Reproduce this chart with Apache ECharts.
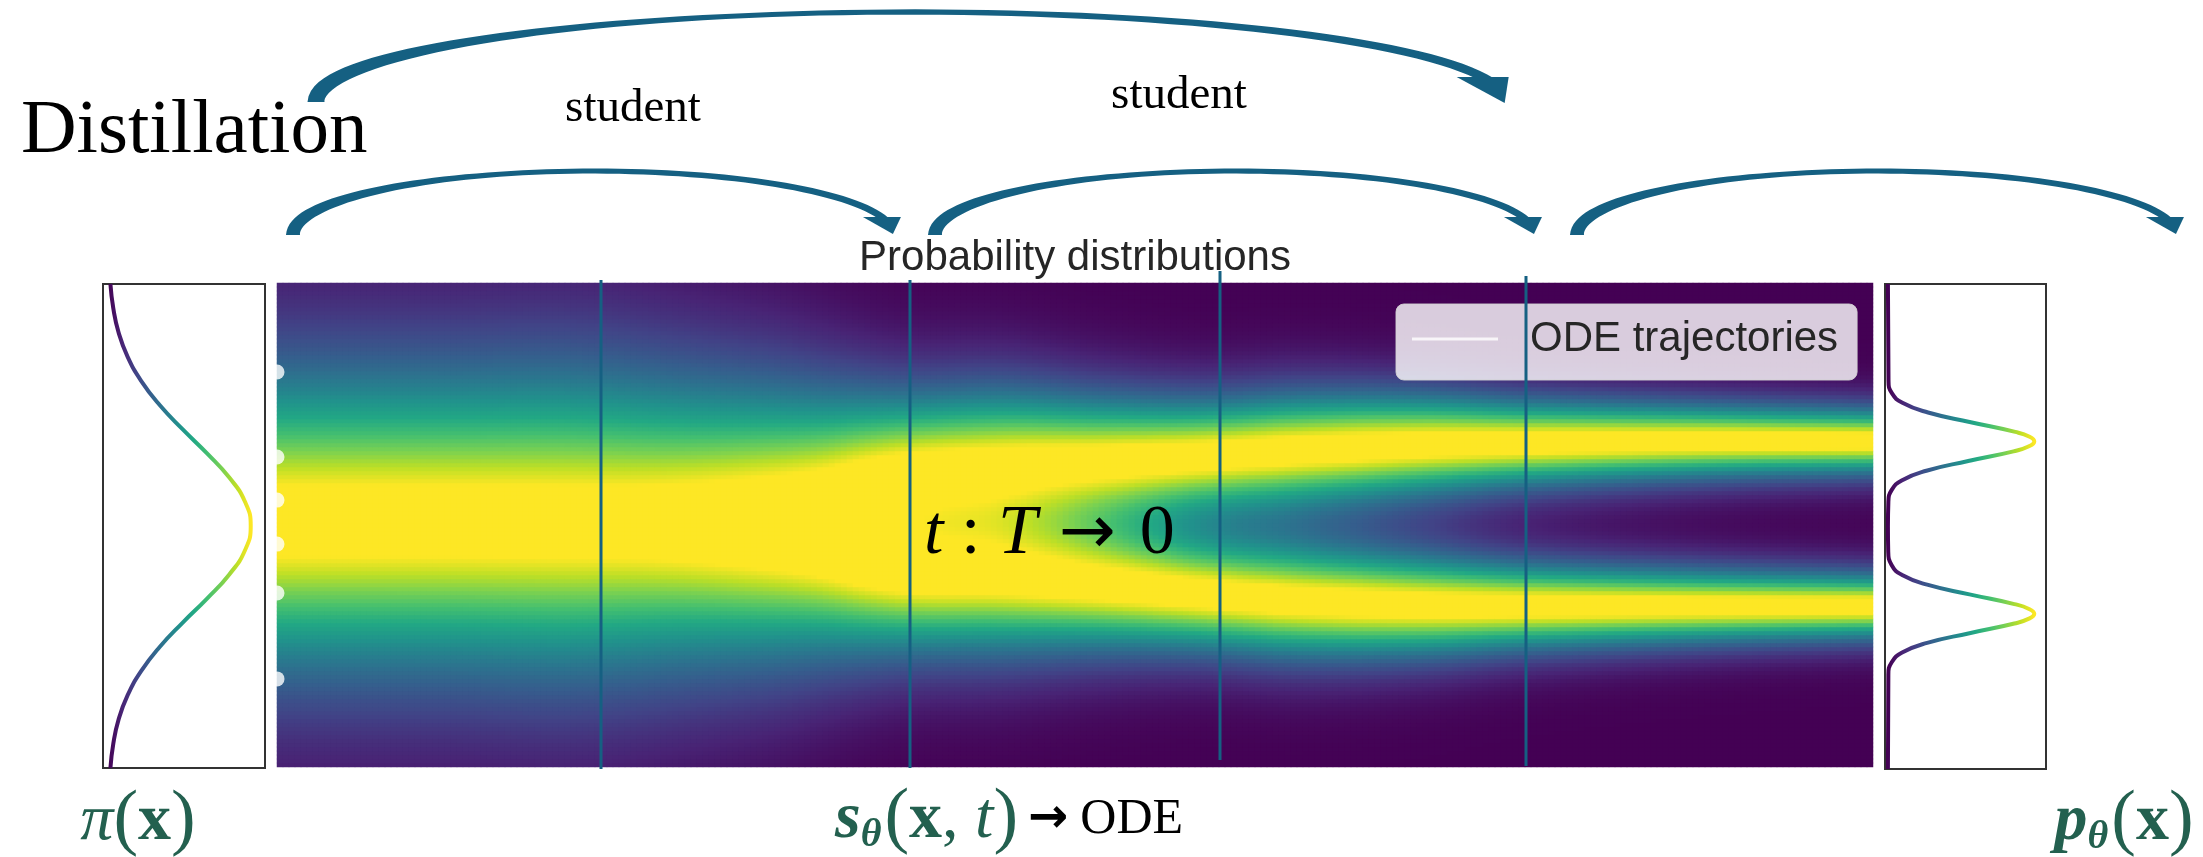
<!DOCTYPE html>
<html>
<head>
<meta charset="utf-8">
<title>Distillation - probability flow ODE</title>
<script src="https://cdn.jsdelivr.net/npm/echarts@6/dist/echarts.min.js"></script>
<style>
  html, body { margin: 0; padding: 0; background: #ffffff; }
  #chart { width: 2203px; height: 857px; }
</style>
</head>
<body>
<div id="chart"></div>
<script>
// density bands at stations along t (0 = left edge, 1 = right edge)
// positions are in units of the vertical range: -1 = bottom, 1 = top
const stationT  = [0, 0.108, 0.202, 0.303, 0.390, 0.453, 0.516, 0.578, 0.641, 0.716, 0.783, 0.892, 1.0];
const upperMode = [0.017, 0.021, 0.029, 0.153, 0.236, 0.260, 0.269, 0.285, 0.310, 0.331, 0.339, 0.347, 0.347];
const lowerMode = [0.017, 0.012, -0.004, -0.136, -0.219, -0.227, -0.252, -0.285, -0.314, -0.331, -0.335, -0.335, -0.335];
const modeWidth = [0.570, 0.570, 0.570, 0.463, 0.310, 0.289, 0.248, 0.219, 0.215, 0.194, 0.165, 0.140, 0.124];
const bandShape = 1.6;
const bandGain = 1.12;

// start points of the ODE trajectories (white dots on the left edge)
const trajStart = [0.632, 0.281, 0.103, -0.079, -0.281, -0.636];

// prior pi(x), left panel
const priorPos     = [1.0, 0.9, 0.8, 0.7, 0.6, 0.5, 0.4, 0.3, 0.2, 0.1, 0.0, -0.1, -0.2, -0.3, -0.4, -0.5, -0.6, -0.7, -0.8, -0.9, -1.0];
const priorDensity = [0.017, 0.037, 0.074, 0.137, 0.232, 0.362, 0.522, 0.694, 0.850, 0.960, 1.0, 0.960, 0.850, 0.694, 0.522, 0.362, 0.232, 0.137, 0.074, 0.037, 0.017];

// p_theta(x), right panel
const modelPos     = [1.0, 0.60, 0.55, 0.51, 0.47, 0.43, 0.39, 0.37, 0.351, 0.33, 0.31, 0.27, 0.23, 0.19, 0.15, 0.10, 0.0,
                      -0.10, -0.16, -0.20, -0.24, -0.28, -0.32, -0.34, -0.36, -0.38, -0.40, -0.44, -0.48, -0.52, -0.56, -0.61, -1.0];
const modelDensity = [0, 0.004, 0.027, 0.099, 0.274, 0.566, 0.870, 0.968, 1.0, 0.96, 0.858, 0.549, 0.263, 0.094, 0.025, 0.003, 0,
                      0.002, 0.026, 0.097, 0.268, 0.557, 0.864, 0.964, 1.0, 0.964, 0.864, 0.557, 0.268, 0.097, 0.026, 0.003, 0];

const viridis = ['#440154', '#482475', '#414487', '#355f8d', '#2a788e', '#21918c',
                 '#22a884', '#44bf70', '#7ad151', '#bddf26', '#fde725'];
const arrowColor = '#156082';
const mathColor = '#23604f';

const cols = 266, rows = 121;

// smooth (cubic Hermite) reading of a station array at t
function stationValue(arr, t) {
  const n = stationT.length;
  let k = 0;
  while (k < n - 2 && t > stationT[k + 1]) k++;
  const slope = i => {
    if (i === 0) return (arr[1] - arr[0]) / (stationT[1] - stationT[0]);
    if (i === n - 1) return (arr[n - 1] - arr[n - 2]) / (stationT[n - 1] - stationT[n - 2]);
    return (arr[i + 1] - arr[i - 1]) / (stationT[i + 1] - stationT[i - 1]);
  };
  const h = stationT[k + 1] - stationT[k];
  const f = Math.min(1, Math.max(0, (t - stationT[k]) / h));
  const f2 = f * f, f3 = f2 * f;
  return (2 * f3 - 3 * f2 + 1) * arr[k] + (f3 - 2 * f2 + f) * h * slope(k)
       + (-2 * f3 + 3 * f2) * arr[k + 1] + (f3 - f2) * h * slope(k + 1);
}

const heatData = [];
for (let j = 0; j < cols; j++) {
  const t = (j + 0.5) / cols;
  const u = stationValue(upperMode, t), l = stationValue(lowerMode, t), w = stationValue(modeWidth, t);
  const colVals = [];
  let vmax = 0;
  for (let i = 0; i < rows; i++) {
    const y = -1 + (i + 0.5) * 2 / rows;
    const v = Math.exp(-Math.pow(Math.abs(y - u) / w, bandShape)) + Math.exp(-Math.pow(Math.abs(y - l) / w, bandShape));
    colVals.push(v);
    if (v > vmax) vmax = v;
  }
  for (let i = 0; i < rows; i++) {
    heatData.push([j, i, Math.min(1, bandGain * colVals[i] / vmax)]);
  }
}

function curvedArrow(a) {
  const n = 72, outer = [], inner = [];
  const th0 = Math.PI, thHead = a.endDeg * Math.PI / 180, th1 = (a.endDeg - 3) * Math.PI / 180;
  for (let k = 0; k <= n; k++) {
    const f = k / n;
    const th = th0 + (th1 - th0) * f;
    const px = a.cx + a.rx * Math.cos(th), py = a.cy - a.ry * Math.sin(th);
    let nx = a.ry * Math.cos(th), ny = -a.rx * Math.sin(th);
    const len = Math.hypot(nx, ny);
    nx /= len; ny /= len;
    const w = f < 0.45
      ? a.wMid + (a.wTail - a.wMid) * Math.pow(1 - f / 0.45, 1.5)
      : a.wMid + (a.wEnd - a.wMid) * Math.pow((f - 0.45) / 0.55, 1.5);
    outer.push([px + nx * w / 2, py + ny * w / 2]);
    inner.push([px - nx * w / 2, py - ny * w / 2]);
  }
  const ex = a.cx + a.rx * Math.cos(thHead), ey = a.cy - a.ry * Math.sin(thHead);
  return [
    { type: 'polygon', z: 20, shape: { points: outer.concat(inner.reverse()) }, style: { fill: arrowColor } },
    { type: 'polygon', z: 20, shape: { points: [[ex - a.headHalf, ey], [ex + a.headHalf, ey], [ex + a.tipDx, ey + a.tipDy]] },
      style: { fill: arrowColor } }
  ];
}

const arcs = [
  { cx: 911, cy: 102, rx: 595, ry: 90, endDeg: 16.1, wTail: 17, wMid: 5, wEnd: 9, headHalf: 26, tipDx: 22, tipDy: 26 },
  { cx: 593.5, cy: 235, rx: 300.5, ry: 64, endDeg: 16.3, wTail: 14, wMid: 5, wEnd: 7, headHalf: 19, tipDx: 11, tipDy: 17 },
  { cx: 1235, cy: 235, rx: 300, ry: 64, endDeg: 16.3, wTail: 14, wMid: 5, wEnd: 7, headHalf: 19, tipDx: 11, tipDy: 17 },
  { cx: 1877, cy: 235, rx: 300, ry: 64, endDeg: 16.3, wTail: 14, wMid: 5, wEnd: 7, headHalf: 19, tipDx: 11, tipDy: 17 }
];

const stepLines = [[601, 280, 769], [910, 280, 768], [1220, 271, 760], [1526, 276, 766]];

const serif = '"Liberation Serif", "Times New Roman", serif';
const sans = '"Liberation Sans", Arial, sans-serif';
const arrowFont = '"DejaVu Sans", sans-serif';

// rich-text styles shared by the math labels
const mathRich = {
  p: { fontFamily: serif, fontSize: 66, fontStyle: 'italic', fontWeight: 'bold', fill: mathColor, verticalAlign: 'middle' },
  i: { fontFamily: serif, fontSize: 66, fontStyle: 'italic', fill: mathColor, verticalAlign: 'middle' },
  s: { fontFamily: serif, fontSize: 40, fontStyle: 'italic', fontWeight: 'bold', fill: mathColor, verticalAlign: 'middle', padding: [32, 3, 0, 0] },
  q: { fontFamily: serif, fontSize: 74, fill: mathColor, verticalAlign: 'middle' },
  b: { fontFamily: serif, fontSize: 66, fontWeight: 'bold', fill: mathColor, verticalAlign: 'middle' },
  n: { fontFamily: serif, fontSize: 66, fill: mathColor, verticalAlign: 'middle' },
  ar: { fontFamily: arrowFont, fontSize: 48, fontWeight: 'bold', fill: '#000', verticalAlign: 'middle', padding: [0, 12, 0, 10] },
  ode: { fontFamily: serif, fontSize: 50, fill: '#000', verticalAlign: 'middle' }
};

const graphics = [];
arcs.forEach(a => graphics.push(...curvedArrow(a)));
stepLines.forEach(l => graphics.push({
  type: 'line', z: 15, shape: { x1: l[0], y1: l[1], x2: l[0], y2: l[2] },
  style: { stroke: arrowColor, lineWidth: 3 }
}));

graphics.push(
  { type: 'text', z: 20, x: 21, y: 132,
    style: { text: 'Distillation', fontFamily: serif, fontSize: 77, fill: '#000', align: 'left', verticalAlign: 'middle' } },
  { type: 'text', z: 20, x: 633, y: 109,
    style: { text: 'student', fontFamily: serif, fontSize: 47, fill: '#000', align: 'center', verticalAlign: 'middle' } },
  { type: 'text', z: 20, x: 1179, y: 96,
    style: { text: 'student', fontFamily: serif, fontSize: 47, fill: '#000', align: 'center', verticalAlign: 'middle' } },
  { type: 'text', z: 12, x: 1075, y: 258,
    style: { text: 'Probability distributions', fontFamily: sans, fontSize: 42, fill: '#262626', align: 'center', verticalAlign: 'middle' } },
  { type: 'text', z: 20, x: 924, y: 535,
    style: {
      text: '{i|t}{n| : }{i|T}{ar|→}{n|0}', align: 'left', verticalAlign: 'middle',
      rich: {
        i: { fontFamily: serif, fontSize: 70, fontStyle: 'italic', fill: '#000', verticalAlign: 'middle' },
        n: { fontFamily: serif, fontSize: 70, fill: '#000', verticalAlign: 'middle' },
        ar: { fontFamily: arrowFont, fontSize: 68, fill: '#000', verticalAlign: 'middle', padding: [0, 24, 0, 22] }
      }
    } },
  { type: 'text', z: 20, x: 138, y: 822,
    style: { text: '{i|π}{q|(}{b|x}{q|)}', align: 'center', verticalAlign: 'middle', rich: mathRich } },
  { type: 'text', z: 20, x: 2124, y: 822,
    style: { text: '{p|p}{s|θ}{q|(}{b|x}{q|)}', align: 'center', verticalAlign: 'middle', rich: mathRich } },
  { type: 'text', z: 20, x: 835, y: 820,
    style: { text: '{p|s}{s|θ}{q|(}{b|x}{n|, }{i|t}{q|)}{ar|→}{ode|ODE}', align: 'left', verticalAlign: 'middle', rich: mathRich } }
);

const chart = echarts.init(document.getElementById('chart'));

const option = {
  backgroundColor: '#ffffff',
  animation: false,
  grid: [
    { left: 277, top: 283, width: 1596, height: 484 },
    { left: 277, top: 283, width: 1596, height: 484 },
    { left: 103, top: 284, width: 162, height: 484, show: true, borderColor: '#333', borderWidth: 2, backgroundColor: 'transparent' },
    { left: 1885, top: 284, width: 161, height: 485, show: true, borderColor: '#333', borderWidth: 2, backgroundColor: 'transparent' }
  ],
  xAxis: [
    { type: 'category', gridIndex: 0, data: Array.from({ length: cols }, (_, j) => j), show: false },
    { type: 'value', gridIndex: 1, min: 0, max: 1, show: false },
    { type: 'value', gridIndex: 2, min: -0.035, max: 1.1, show: false },
    { type: 'value', gridIndex: 3, min: -0.02, max: 1.08, show: false }
  ],
  yAxis: [
    { type: 'category', gridIndex: 0, data: Array.from({ length: rows }, (_, i) => i), show: false },
    { type: 'value', gridIndex: 1, min: -1, max: 1, show: false },
    { type: 'value', gridIndex: 2, min: -1, max: 1, show: false },
    { type: 'value', gridIndex: 3, min: -1, max: 1, show: false }
  ],
  visualMap: [
    { type: 'continuous', show: false, seriesIndex: 0, dimension: 2, min: 0, max: 1, inRange: { color: viridis } },
    { type: 'continuous', show: false, seriesIndex: [2, 3], dimension: 0, min: 0, max: 1, inRange: { color: viridis } }
  ],
  legend: {
    left: 1396, top: 304,
    padding: [14, 19, 20, 16],
    itemWidth: 86, itemHeight: 3,
    backgroundColor: 'rgba(255,255,255,0.8)',
    borderColor: 'rgba(210,210,210,0.9)', borderWidth: 1, borderRadius: 8,
    selectedMode: false,
    textStyle: { fontFamily: sans, fontSize: 42, color: '#262626', padding: [0, 0, 0, 27] },
    data: [{ name: 'ODE trajectories', icon: 'rect' }]
  },
  series: [
    {
      type: 'heatmap', xAxisIndex: 0, yAxisIndex: 0,
      data: heatData, progressive: 0,
      itemStyle: { borderWidth: 0 },
      emphasis: { disabled: true }
    },
    {
      name: 'ODE trajectories', type: 'scatter', xAxisIndex: 1, yAxisIndex: 1,
      data: trajStart.map(y => [0, y]),
      symbolSize: 15, itemStyle: { color: '#ffffff' }, z: 5, clip: false
    },
    {
      name: 'prior', type: 'line', xAxisIndex: 2, yAxisIndex: 2,
      data: priorPos.map((y, k) => [priorDensity[k], y]),
      smooth: true, showSymbol: false, lineStyle: { width: 4 }
    },
    {
      name: 'model', type: 'line', xAxisIndex: 3, yAxisIndex: 3,
      data: modelPos.map((y, k) => [modelDensity[k], y]),
      smooth: true, showSymbol: false, lineStyle: { width: 4 }
    }
  ],
  graphic: graphics
};

chart.setOption(option);
</script>
</body>
</html>
